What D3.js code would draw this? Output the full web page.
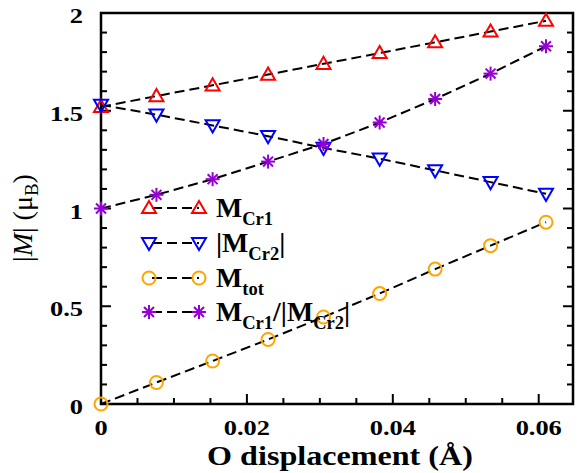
<!DOCTYPE html>
<html>
<head>
<meta charset="utf-8">
<script src="https://cdn.jsdelivr.net/npm/d3@7"></script>
<style>
  body { margin: 0; background: #fff; }
</style>
</head>
<body>
<div id="vis-container"></div>
<script>
// data
const displacement = [0, 0.0076, 0.0153, 0.0229, 0.0305, 0.0382, 0.0458, 0.0534, 0.061];
const mCr1 = [1.52, 1.575, 1.63, 1.685, 1.74, 1.795, 1.85, 1.905, 1.96];
const mCr2 = [1.53, 1.48, 1.425, 1.37, 1.31, 1.255, 1.195, 1.135, 1.075];
const mTot = [0, 0.11, 0.22, 0.33, 0.445, 0.565, 0.69, 0.81, 0.93];
const ratio = [1.0, 1.07, 1.15, 1.24, 1.33, 1.44, 1.56, 1.69, 1.83];

const xMajor = [0, 0.02, 0.04, 0.06];
const xTickLabels = ["0", "0.02", "0.04", "0.06"];
const yMajor = [0, 0.5, 1, 1.5, 2];
const yTickLabels = ["0", "0.5", "1", "1.5", "2"];

const seriesNames = [["M", "Cr1", ""], ["|M", "Cr2", "|"], ["M", "tot", ""], ["M", "Cr1", "/|M", "Cr2", "|"]];

const FONT = "Liberation Serif";

// setting parameters
const margin = { top: 13, right: 4, bottom: 69, left: 101 };
const W = 577, H = 473;
const width = W - margin.left - margin.right;
const height = H - margin.top - margin.bottom;

const svg = d3.select("#vis-container")
  .append("svg")
    .attr("width", W)
    .attr("height", H)
  .append("g")
    .attr("transform", `translate(${margin.left}, ${margin.top})`);

// text placed at (px, py), stretched a bit horizontally like the original
function label(px, py, sx) {
  return svg.append("text")
    .attr("transform", `translate(${px}, ${py}) scale(${sx || 1}, 1)`)
    .attr("font-family", FONT)
    .attr("font-weight", "bold");
}

const x = d3.scaleLinear().domain([0, 0.0647]).range([0, width]);
const y = d3.scaleLinear().domain([0, 2]).range([height, 0]);

// ticks (inward), bottom + left + right
const xMinor = d3.range(0, 0.0646, 0.005);
const yMinor = d3.range(0, 2.001, 0.1);

const tickG = svg.append("g").attr("stroke", "#000").attr("stroke-width", 2);
xMinor.forEach(v => {
  const major = xMajor.some(m => Math.abs(m - v) < 1e-9);
  tickG.append("line")
    .attr("x1", x(v)).attr("x2", x(v))
    .attr("y1", height).attr("y2", height - (major ? 10 : 6));
});
yMinor.forEach(v => {
  const major = yMajor.some(m => Math.abs(m - v) < 1e-9);
  const len = major ? 10 : 6;
  tickG.append("line")
    .attr("x1", 0).attr("x2", len)
    .attr("y1", y(v)).attr("y2", y(v));
  tickG.append("line")
    .attr("x1", width).attr("x2", width - len)
    .attr("y1", y(v)).attr("y2", y(v));
});

// frame
svg.append("rect")
  .attr("x", 0).attr("y", 0)
  .attr("width", width).attr("height", height)
  .attr("fill", "none")
  .attr("stroke", "#000")
  .attr("stroke-width", 2.5);

// tick labels
xMajor.forEach((d, i) => {
  label(x(d), height + 31, 1.2)
    .attr("text-anchor", "middle")
    .attr("font-size", 22)
    .text(xTickLabels[i]);
});

yMajor.forEach((d, i) => {
  label(-18, y(d) + 10, 1.2)
    .attr("text-anchor", "end")
    .attr("font-size", 22)
    .text(yTickLabels[i]);
});

// axis titles
label(width / 2 + 3, height + 61, 1.19)
  .attr("text-anchor", "middle")
  .attr("font-size", 27)
  .text("O displacement (Å)");

const yTitle = svg.append("text")
  .attr("transform", `translate(${32 - margin.left}, ${218 - margin.top}) rotate(-90)`)
  .attr("font-family", FONT)
  .attr("text-anchor", "middle")
  .attr("font-size", 28);
yTitle.append("tspan").text("|");
yTitle.append("tspan").attr("font-style", "italic").text("M");
yTitle.append("tspan").text("| (μ");
yTitle.append("tspan").attr("font-size", 19).attr("dy", 6).text("B");
yTitle.append("tspan").attr("dy", -6).text(")");

// markers
const triangle = d3.symbol().type(d3.symbolTriangle).size(85);

function drawMarker(g, kind, color) {
  if (kind === "up") {
    g.append("path").attr("d", triangle()).attr("transform", "translate(0,1)")
      .attr("fill", "none").attr("stroke", color).attr("stroke-width", 2);
  } else if (kind === "down") {
    g.append("path").attr("d", triangle()).attr("transform", "translate(0,-1) rotate(180)")
      .attr("fill", "none").attr("stroke", color).attr("stroke-width", 2);
  } else if (kind === "circle") {
    g.append("circle").attr("r", 6.5)
      .attr("fill", "none").attr("stroke", color).attr("stroke-width", 2);
  } else {
    for (let k = 0; k < 4; k++) {
      const a = k * Math.PI / 4;
      g.append("line")
        .attr("x1", -7 * Math.cos(a)).attr("y1", -7 * Math.sin(a))
        .attr("x2", 7 * Math.cos(a)).attr("y2", 7 * Math.sin(a))
        .attr("stroke", color).attr("stroke-width", 2);
    }
  }
}

const series = [
  { vals: mCr1, kind: "up", color: "#ff0000" },
  { vals: mCr2, kind: "down", color: "#0000ff" },
  { vals: mTot, kind: "circle", color: "#ffa500" },
  { vals: ratio, kind: "star", color: "#9400d3" }
];

const line = d3.line()
  .x((d, i) => x(displacement[i]))
  .y(d => y(d));

series.forEach(s => {
  svg.append("path")
    .datum(s.vals)
    .attr("d", line)
    .attr("fill", "none")
    .attr("stroke", "#000")
    .attr("stroke-width", 2)
    .attr("stroke-dasharray", "10,5");
});

series.forEach(s => {
  s.vals.forEach((v, i) => {
    const g = svg.append("g").attr("transform", `translate(${x(displacement[i])}, ${y(v)})`);
    drawMarker(g, s.kind, s.color);
  });
});

// legend
const legendY = [208, 243, 278, 312];
series.forEach((s, i) => {
  const ly = legendY[i] - margin.top;
  svg.append("line")
    .attr("x1", 149 - margin.left).attr("x2", 199 - margin.left)
    .attr("y1", ly).attr("y2", ly)
    .attr("stroke", "#000").attr("stroke-width", 2)
    .attr("stroke-dasharray", "10,5")
    .attr("stroke-dashoffset", -3);
  [149, 199].forEach(px => {
    const g = svg.append("g").attr("transform", `translate(${px - margin.left}, ${ly})`);
    drawMarker(g, s.kind, s.color);
  });
  const t = label(216 - margin.left, ly + 9, 1.03)
    .attr("font-size", 27);
  const parts = seriesNames[i];
  parts.forEach((p, j) => {
    if (!p) return;
    const sub = j % 2 === 1;
    t.append("tspan")
      .attr("font-size", sub ? 18 : 27)
      .attr("dy", sub ? 8 : (j > 0 ? -8 : 0))
      .text(p);
  });
});
</script>
</body>
</html>
